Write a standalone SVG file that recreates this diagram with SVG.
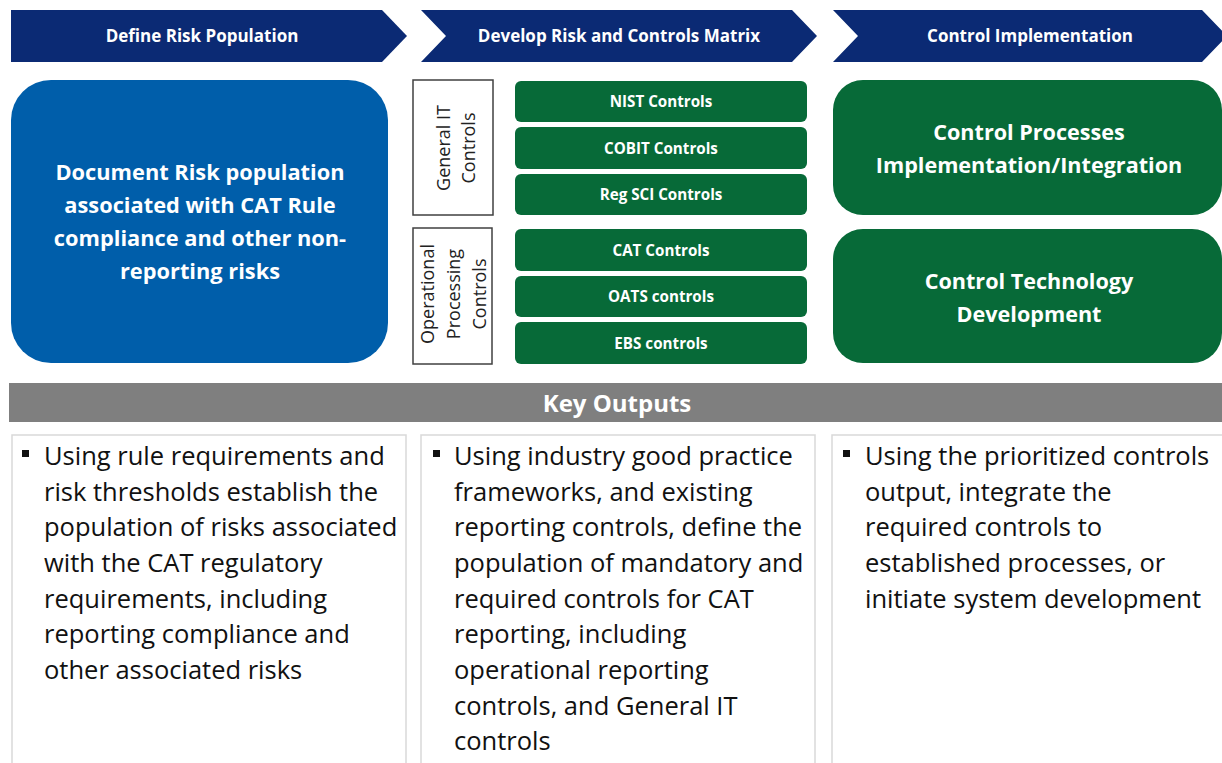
<svg xmlns="http://www.w3.org/2000/svg" width="1222" height="763" viewBox="0 0 1222 763">
<style>
.chev{fill:#0B2A74}
.hdr{font-family:"Open Sans",Lato,sans-serif;font-weight:bold;font-size:17px;fill:#fff;text-anchor:middle}
.blue{fill:#005EAA}
.green{fill:#076A38}
.wb{font-family:"Open Sans",Lato,sans-serif;font-weight:bold;fill:#fff;text-anchor:middle}
.small{font-size:15.2px}
.big{font-size:21.6px}
.lbl{fill:#fff;stroke:#404040;stroke-width:1.5}
.rot{font-family:"Open Sans",Lato,sans-serif;font-size:18px;fill:#222;text-anchor:middle}
.out{fill:#fff;stroke:#D9D9D9;stroke-width:1.5}
.body{font-family:"Open Sans",Lato,sans-serif;font-size:25.5px;fill:#111}
.bul{fill:#111}
</style>
<rect width="1222" height="763" fill="#fff"/>
<g id="chevron-define">
<polygon class="chev" points="11,10 382,10 407,36 382,62 11,62"/>
<text class="hdr" x="202" y="42">Define Risk Population</text>
</g>
<g id="chevron-develop">
<polygon class="chev" points="421,10 792,10 817,36 792,62 421,62 446,36"/>
<text class="hdr" x="619" y="42">Develop Risk and Controls Matrix</text>
</g>
<g id="chevron-implement">
<polygon class="chev" points="833,10 1202,10 1227,36 1202,62 833,62 858,36"/>
<text class="hdr" x="1030" y="42">Control Implementation</text>
</g>
<g id="risk-population">
<rect class="blue" x="11" y="80" width="377" height="283" rx="40"/>
<text class="wb" font-size="21.8" x="200" y="180">Document Risk population</text>
<text class="wb" font-size="21.8" x="200" y="213">associated with CAT Rule</text>
<text class="wb" font-size="21.8" x="200" y="246">compliance and other non-</text>
<text class="wb" font-size="21.8" x="200" y="279">reporting risks</text>
</g>
<g id="general-it">
<rect class="lbl" x="413" y="80" width="80" height="135"/>
<text class="rot" transform="translate(450,148) rotate(-90)">General IT</text>
<text class="rot" transform="translate(475,148) rotate(-90)">Controls</text>
</g>
<g id="operational">
<rect class="lbl" x="413" y="228" width="79" height="136"/>
<text class="rot" transform="translate(434,294) rotate(-90)">Operational</text>
<text class="rot" transform="translate(460,294) rotate(-90)">Processing</text>
<text class="rot" transform="translate(486,294) rotate(-90)">Controls</text>
</g>
<g id="nist"><rect class="green" x="515" y="81" width="292" height="41" rx="6"/><text class="wb small" x="661" y="107">NIST Controls</text></g>
<g id="cobit"><rect class="green" x="515" y="127" width="292" height="42" rx="6"/><text class="wb small" x="661" y="154">COBIT Controls</text></g>
<g id="regsci"><rect class="green" x="515" y="174" width="292" height="41" rx="6"/><text class="wb small" x="661" y="200">Reg SCI Controls</text></g>
<g id="cat"><rect class="green" x="515" y="229" width="292" height="42" rx="6"/><text class="wb small" x="661" y="256">CAT Controls</text></g>
<g id="oats"><rect class="green" x="515" y="276" width="292" height="41" rx="6"/><text class="wb small" x="661" y="302">OATS controls</text></g>
<g id="ebs"><rect class="green" x="515" y="322" width="292" height="42" rx="6"/><text class="wb small" x="661" y="349">EBS controls</text></g>
<g id="control-processes">
<rect class="green" x="833" y="80" width="389" height="135" rx="30"/>
<text class="wb big" x="1029" y="140">Control Processes</text>
<text class="wb big" x="1029" y="173">Implementation/Integration</text>
</g>
<g id="control-tech">
<rect class="green" x="833" y="229" width="389" height="134" rx="30"/>
<text class="wb big" x="1029" y="289">Control Technology</text>
<text class="wb big" x="1029" y="322">Development</text>
</g>
<g id="key-outputs">
<rect x="9" y="383" width="1213" height="39" fill="#7F7F7F"/>
<text class="wb" font-size="24" x="617" y="412">Key Outputs</text>
</g>
<g id="output-1">
<rect class="out" x="12" y="435" width="394" height="340"/>
<rect class="bul" x="22" y="450" width="7" height="7"/>
<text class="body"><tspan x="44" y="465">Using rule requirements and</tspan><tspan x="44" y="501">risk thresholds establish the</tspan><tspan x="44" y="536">population of risks associated</tspan><tspan x="44" y="572">with the CAT regulatory</tspan><tspan x="44" y="608">requirements, including</tspan><tspan x="44" y="643">reporting compliance and</tspan><tspan x="44" y="679">other associated risks</tspan></text>
</g>
<g id="output-2">
<rect class="out" x="421" y="435" width="394" height="340"/>
<rect class="bul" x="433" y="450" width="7" height="7"/>
<text class="body"><tspan x="454" y="465">Using industry good practice</tspan><tspan x="454" y="501">frameworks, and existing</tspan><tspan x="454" y="536">reporting controls, define the</tspan><tspan x="454" y="572">population of mandatory and</tspan><tspan x="454" y="608">required controls for CAT</tspan><tspan x="454" y="643">reporting, including</tspan><tspan x="454" y="679">operational reporting</tspan><tspan x="454" y="715">controls, and General IT</tspan><tspan x="454" y="750">controls</tspan></text>
</g>
<g id="output-3">
<rect class="out" x="832" y="435" width="400" height="340"/>
<rect class="bul" x="843" y="450" width="7" height="7"/>
<text class="body"><tspan x="865" y="465">Using the prioritized controls</tspan><tspan x="865" y="501">output, integrate the</tspan><tspan x="865" y="536">required controls to</tspan><tspan x="865" y="572">established processes, or</tspan><tspan x="865" y="608">initiate system development</tspan></text>
</g>
<g id="connectors"></g>
</svg>
